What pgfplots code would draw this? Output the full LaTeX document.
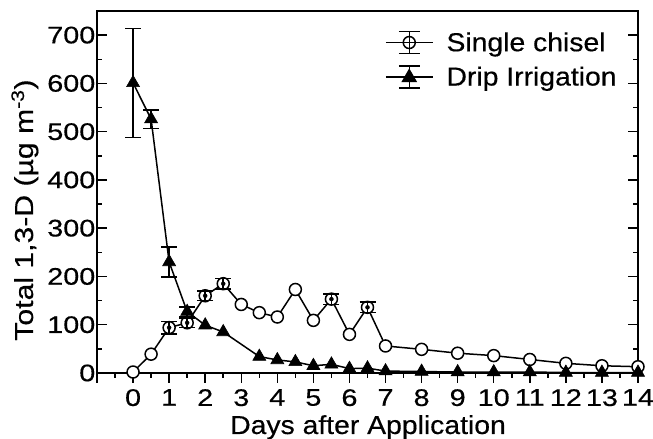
\documentclass[border=0pt]{standalone}
\usepackage{fontspec}
\setmainfont{Liberation Sans}
\newfontfamily\tickfont{Liberation Sans}[FakeStretch=1.2, FakeBold=0.4]
\newfontfamily\labelfont{Liberation Sans}[FakeStretch=1.09, FakeBold=0.4]
\newfontfamily\ylabelfont{Liberation Sans}[FakeStretch=1.16, FakeBold=0.4]
\usepackage{pgfplots}
\usepackage{pgfplotstable}
\pgfplotsset{compat=1.18}

% Single chisel: day, mean concentration
\pgfplotstableread{
x y
0 2
0.5 39
1 94
1.5 104
2 160
2.5 185
3 142
3.5 125
4 116
4.5 173
5 109
5.5 153
6 80
6.5 136
7 56
8 49
9 41
10 36
11 28
12 20
13 15
14 13
}\chisel

% Single chisel: days with a standard error
\pgfplotstableread{
x y e
1 94 13
1.5 104 10
2 160 10
2.5 185 11
5.5 153 11
6.5 136 11
}\chiselerr

% Drip irrigation: day, mean concentration
\pgfplotstableread{
x y
0 601
0.5 526
1 230
1.5 127
2 99
2.5 85
3.5 34
4 27
4.5 23
5 15
5.5 18
6 9
6.5 10
7 4
8 3
9 2
10 2
11 2
12 1
13 1
14 1
}\drip

% Drip irrigation: days with a standard error
\pgfplotstableread{
x y e
0 601 113
0.5 526 19
1 230 31
1.5 127 10
}\driperr

\begin{document}
\begin{tikzpicture}
\begin{axis}[
  scale only axis,
  width=541bp, height=362bp,
  xmin=-1, xmax=14, ymin=0, ymax=750,
  axis line style={line width=1.5bp, black},
  xtick={-1,0,1,2,3,4,5,6,7,8,9,10,11,12,13,14},
  xticklabels={{},0,1,2,3,4,5,6,7,8,9,10,11,12,13,14},
  minor x tick num=1,
  ytick={0,100,200,300,400,500,600,700},
  minor y tick num=1,
  xtick pos=left,
  xtick align=outside,
  ytick align=inside,
  major tick length=10bp,
  minor tick length=5bp,
  every tick/.style={line width=1.5bp, black},
  /pgf/number format/assume math mode=true,
  tick label style={font=\tickfont\fontsize{24bp}{28bp}\selectfont},
  yticklabel style={inner sep=1.5bp},
  xticklabel style={inner sep=6bp},
  xlabel={Days after Application},
  ylabel={Total 1,3-D (µg m\textsuperscript{-3})},
  every axis x label/.style={at={(rel axis cs:0.501,0)}, anchor=base,
    yshift=-61bp, font=\labelfont\fontsize{26bp}{30bp}\selectfont},
  every axis y label/.style={at={(rel axis cs:-0.1183,0.45)}, rotate=90,
    anchor=base, font=\ylabelfont\fontsize{26bp}{30bp}\selectfont},
  legend style={at={(rel axis cs:0.532,0.947)}, anchor=north west,
    draw=none, fill=none, inner sep=0pt, row sep=10bp,
    font=\labelfont\fontsize{26bp}{30bp}\selectfont},
  legend cell align=left,
  clip mode=individual,
]

% Single chisel
\addplot[black, line width=1.5bp, mark=*, mark size=6bp,
  mark options={fill=white, line width=1.5bp},
  legend image code/.code={
    \draw[black, line width=1.5bp] (0bp,0bp) -- (47bp,0bp);
    \draw[black, line width=1.5bp] (23.5bp,-11bp) -- (23.5bp,11bp)
      (13bp,-11bp) -- (34bp,-11bp) (13bp,11bp) -- (34bp,11bp);
    \draw[black, line width=1.5bp] (23.5bp,0bp) circle (6bp);
    \path (58bp,0bp);
  }] table {\chisel};
\addlegendentry{Single chisel}

% Drip irrigation
\addplot[black, line width=1.5bp, mark=triangle*, mark size=7.5bp,
  mark options={fill=black, line width=0.6bp},
  legend image code/.code={
    \draw[black, line width=1.5bp] (0bp,0bp) -- (47bp,0bp);
    \draw[black, line width=1.5bp] (23.5bp,-11bp) -- (23.5bp,11bp)
      (13bp,-11bp) -- (34bp,-11bp) (13bp,11bp) -- (34bp,11bp);
    \fill[black] (23.5bp,7bp) -- (16.9bp,-4.5bp) -- (30.1bp,-4.5bp) -- cycle;
    \path (58bp,0bp);
  }] table {\drip};
\addlegendentry{Drip Irrigation}

% Error bars
\addplot[forget plot, only marks, mark=none,
  error bars/.cd, y dir=both, y explicit,
  error bar style={black, line width=1.5bp},
  error mark options={black, line width=1.5bp, mark size=8bp, rotate=90}]
  table[x=x, y=y, y error=e] {\chiselerr};
\addplot[forget plot, only marks, mark=none,
  error bars/.cd, y dir=both, y explicit,
  error bar style={black, line width=1.5bp},
  error mark options={black, line width=1.5bp, mark size=8bp, rotate=90}]
  table[x=x, y=y, y error=e] {\driperr};
\end{axis}
\pgfresetboundingbox
\path[use as bounding box]
  ([shift={(-97bp,-66bp)}]current axis.south west)
  rectangle ([shift={(15bp,11bp)}]current axis.north east);
\end{tikzpicture}
\end{document}
